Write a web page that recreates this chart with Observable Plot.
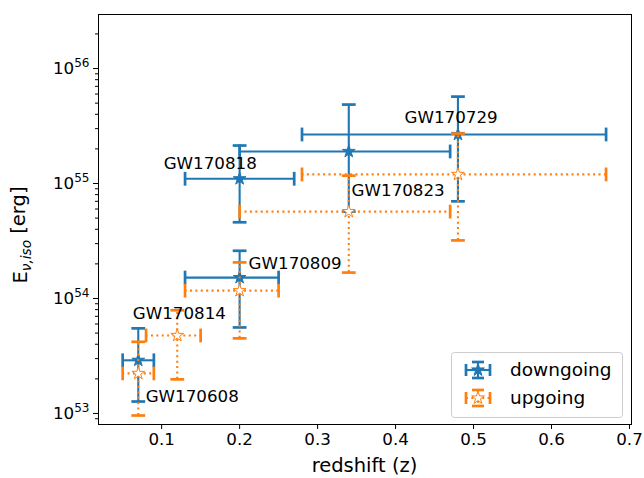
<!DOCTYPE html>
<html><head><meta charset="utf-8">
<script src="https://cdn.jsdelivr.net/npm/d3@7"></script>
<script src="https://cdn.jsdelivr.net/npm/@observablehq/plot@0.6"></script>
<style>
body{margin:0;background:#fff;}
#chart{position:relative;width:644px;height:478px;font-family:"DejaVu Sans",sans-serif;}
</style></head><body><div id="chart"></div>
<script>
// ---- data ----
const downEvents = ["GW170608","GW170809","GW170818","GW170823","GW170729"];
const downZ   = [0.07, 0.20, 0.20, 0.34, 0.48];
const downZlo = [0.05, 0.13, 0.13, 0.20, 0.28];
const downZhi = [0.09, 0.25, 0.27, 0.47, 0.67];
const downE   = [2.9e53, 1.52e54, 1.10e55, 1.90e55, 2.67e55];
const downElo = [1.27e53, 5.6e53, 4.6e54, 5.7e54, 7.0e54];
const downEhi = [5.5e53, 2.6e54, 2.14e55, 4.86e55, 5.7e55];

const upEvents = ["GW170608","GW170814","GW170809","GW170823","GW170729"];
const upZ   = [0.07, 0.12, 0.20, 0.34, 0.48];
const upZlo = [0.05, 0.08, 0.13, 0.20, 0.28];
const upZhi = [0.09, 0.15, 0.25, 0.47, 0.67];
const upE   = [2.23e53, 4.77e53, 1.17e54, 5.7e54, 1.20e55];
const upElo = [9.6e52, 1.98e53, 4.5e53, 1.68e54, 3.2e54];
const upEhi = [4.2e53, 7.9e53, 2.06e54, 1.17e55, 2.72e55];

const labelText = ["GW170608","GW170814","GW170809","GW170818","GW170823","GW170729"];
const labelZ = [0.0795, 0.063, 0.2115, 0.1026, 0.3436, 0.4115];
const labelE = [1.4e53, 7.4e53, 2.0e54, 1.49e55, 8.7e54, 3.75e55];

const xTicks = [0.1, 0.2, 0.3, 0.4, 0.5, 0.6, 0.7];
const yTicks = [1e53, 1e54, 1e55, 1e56];
const seriesNames = ["downgoing", "upgoing"];

// ---- build tables ----
const down = downEvents.map((e,i)=>({event:e, z:downZ[i], zlo:downZlo[i], zhi:downZhi[i], E:downE[i], Elo:downElo[i], Ehi:downEhi[i]}));
const up = upEvents.map((e,i)=>({event:e, z:upZ[i], zlo:upZlo[i], zhi:upZhi[i], E:upE[i], Elo:upElo[i], Ehi:upEhi[i]}));
const labels = labelText.map((t,i)=>({t, z:labelZ[i], E:labelE[i]}));
const yDomain = [Math.pow(10,52.904), Math.pow(10,56.47)];
const yMinor = [];
for (let d = 52; d <= 56; d++) for (let k = 2; k <= 9; k++) {
  const v = k*Math.pow(10,d);
  if (v >= yDomain[0] && v <= yDomain[1]) yMinor.push(v);
}

const blue = "#1f77b4", orange = "#ff7f0e";
const hcap = {draw(ctx, size){ const r = Math.sqrt(size/Math.PI); ctx.moveTo(-r,0); ctx.lineTo(r,0);} };
const vcap = {draw(ctx, size){ const r = Math.sqrt(size/Math.PI); ctx.moveTo(0,-r); ctx.lineTo(0,r);} };
const capR = 6.9, capW = 2.7, lw = 2.1, starR = 4;

function errMarks(data, color, dash, starFill) {
  return [
    Plot.ruleY(data, {y:"E", x1:"zlo", x2:"zhi", stroke:color, strokeWidth:lw, strokeDasharray:dash}),
    Plot.ruleX(data, {x:"z", y1:"Elo", y2:"Ehi", stroke:color, strokeWidth:lw, strokeDasharray:dash}),
    Plot.dot(data, {x:"zlo", y:"E", symbol:vcap, r:capR, fill:"none", stroke:color, strokeWidth:capW}),
    Plot.dot(data, {x:"zhi", y:"E", symbol:vcap, r:capR, fill:"none", stroke:color, strokeWidth:capW}),
    Plot.dot(data, {x:"z", y:"Elo", symbol:hcap, r:capR, fill:"none", stroke:color, strokeWidth:capW}),
    Plot.dot(data, {x:"z", y:"Ehi", symbol:hcap, r:capR, fill:"none", stroke:color, strokeWidth:capW}),
    Plot.dot(data, {x:"z", y:"E", symbol:"star", r:starR, fill:starFill, stroke:color, strokeWidth:1})
  ];
}

const fs = 16.7;
const chart = Plot.plot({
  width: 644, height: 478,
  marginLeft: 98, marginRight: 13, marginTop: 14, marginBottom: 54,
  style: {fontFamily: "DejaVu Sans", background: "#fff", color: "#000"},
  x: {domain: [0.019, 0.7026]},
  y: {type: "log", domain: yDomain},
  marks: [
    Plot.axisX({ticks: xTicks, tickFormat: d3.format(".1f"), tickSize: 5, tickPadding: 4, fontSize: fs, label: null, stroke:"#000"}),
    Plot.axisY({ticks: yMinor, tickFormat: () => "", tickSize: 3, label: null, stroke:"#000"}),
    Plot.axisY({ticks: yTicks, tickFormat: d => String(Math.round(Math.log10(d))), tickSize: 5, tickPadding: 4, fontSize: fs, label: null, stroke:"#000"}),
    ...errMarks(down, blue, null, blue),
    ...errMarks(up, orange, "2,3.4", "#fff"),
    Plot.text(labels, {x:"z", y:"E", text:"t", textAnchor:"start", fontSize: fs, fill:"#000"}),
    Plot.frame({stroke:"#000", strokeWidth:1})
  ]
});
document.getElementById("chart").appendChild(chart);

const svg = d3.select(chart);
// superscript y tick labels
svg.selectAll('g[aria-label="y-axis tick label"] text').each(function(){
  const t = d3.select(this);
  const exp = t.text();
  if (!exp) return;
  t.text(null);
  t.append("tspan").text("10");
  t.append("tspan").attr("dy","-0.55em").attr("font-size","0.72em").text(exp);
});

// axis labels
svg.append("text").attr("x", 364.5).attr("y", 472).attr("text-anchor","middle")
  .attr("font-size", 19.5).attr("font-family","DejaVu Sans").attr("fill","#000").text("redshift (z)");
const yl = svg.append("text").attr("transform","translate(27,235) rotate(-90)").attr("text-anchor","middle")
  .attr("font-size", 19.5).attr("font-family","DejaVu Sans").attr("fill","#000");
yl.append("tspan").text("E");
yl.append("tspan").attr("dy","0.3em").attr("font-size","0.7em").attr("font-style","italic").text("ν,iso");
yl.append("tspan").attr("dy","-0.3em").text(" [erg]");

// legend
const lg = svg.append("g").attr("text-anchor","start");
lg.append("rect").attr("x",451.5).attr("y",352.5).attr("width",171).attr("height",65).attr("rx",3).attr("ry",3)
  .style("fill","#ffffff").style("fill-opacity",0.8).style("stroke","#cccccc").style("stroke-width",1);
const entries = [{name:seriesNames[0], color:blue, dash:null, fill:blue, cy:370},
                 {name:seriesNames[1], color:orange, dash:"2,3.4", fill:"#fff", cy:398}];
entries.forEach(en => {
  const cx = 478, g = lg.append("g");
  g.append("line").attr("x1",cx-12).attr("x2",cx+12).attr("y1",en.cy).attr("y2",en.cy).attr("stroke",en.color).attr("stroke-width",lw).attr("stroke-dasharray",en.dash);
  g.append("line").attr("x1",cx).attr("x2",cx).attr("y1",en.cy-8).attr("y2",en.cy+8).attr("stroke",en.color).attr("stroke-width",lw).attr("stroke-dasharray",en.dash);
  [[cx-12,en.cy,0],[cx+12,en.cy,0],[cx,en.cy-8,1],[cx,en.cy+8,1]].forEach(([x,y,h]) => {
    g.append("line").attr("x1",h?x-6:x).attr("x2",h?x+6:x).attr("y1",h?y:y-6).attr("y2",h?y:y+6).attr("stroke",en.color).attr("stroke-width",capW);
  });
  g.append("path").attr("d", d3.symbol(d3.symbolStar, Math.PI*starR*starR)()).attr("transform",`translate(${cx},${en.cy})`)
    .attr("fill",en.fill).attr("stroke",en.color).attr("stroke-width",1);
  g.append("text").attr("x",510).attr("y",en.cy).attr("dy","0.35em").attr("text-anchor","start").attr("font-size",18.5).attr("font-family","DejaVu Sans").attr("fill","#000").text(en.name);
});
</script></body></html>
